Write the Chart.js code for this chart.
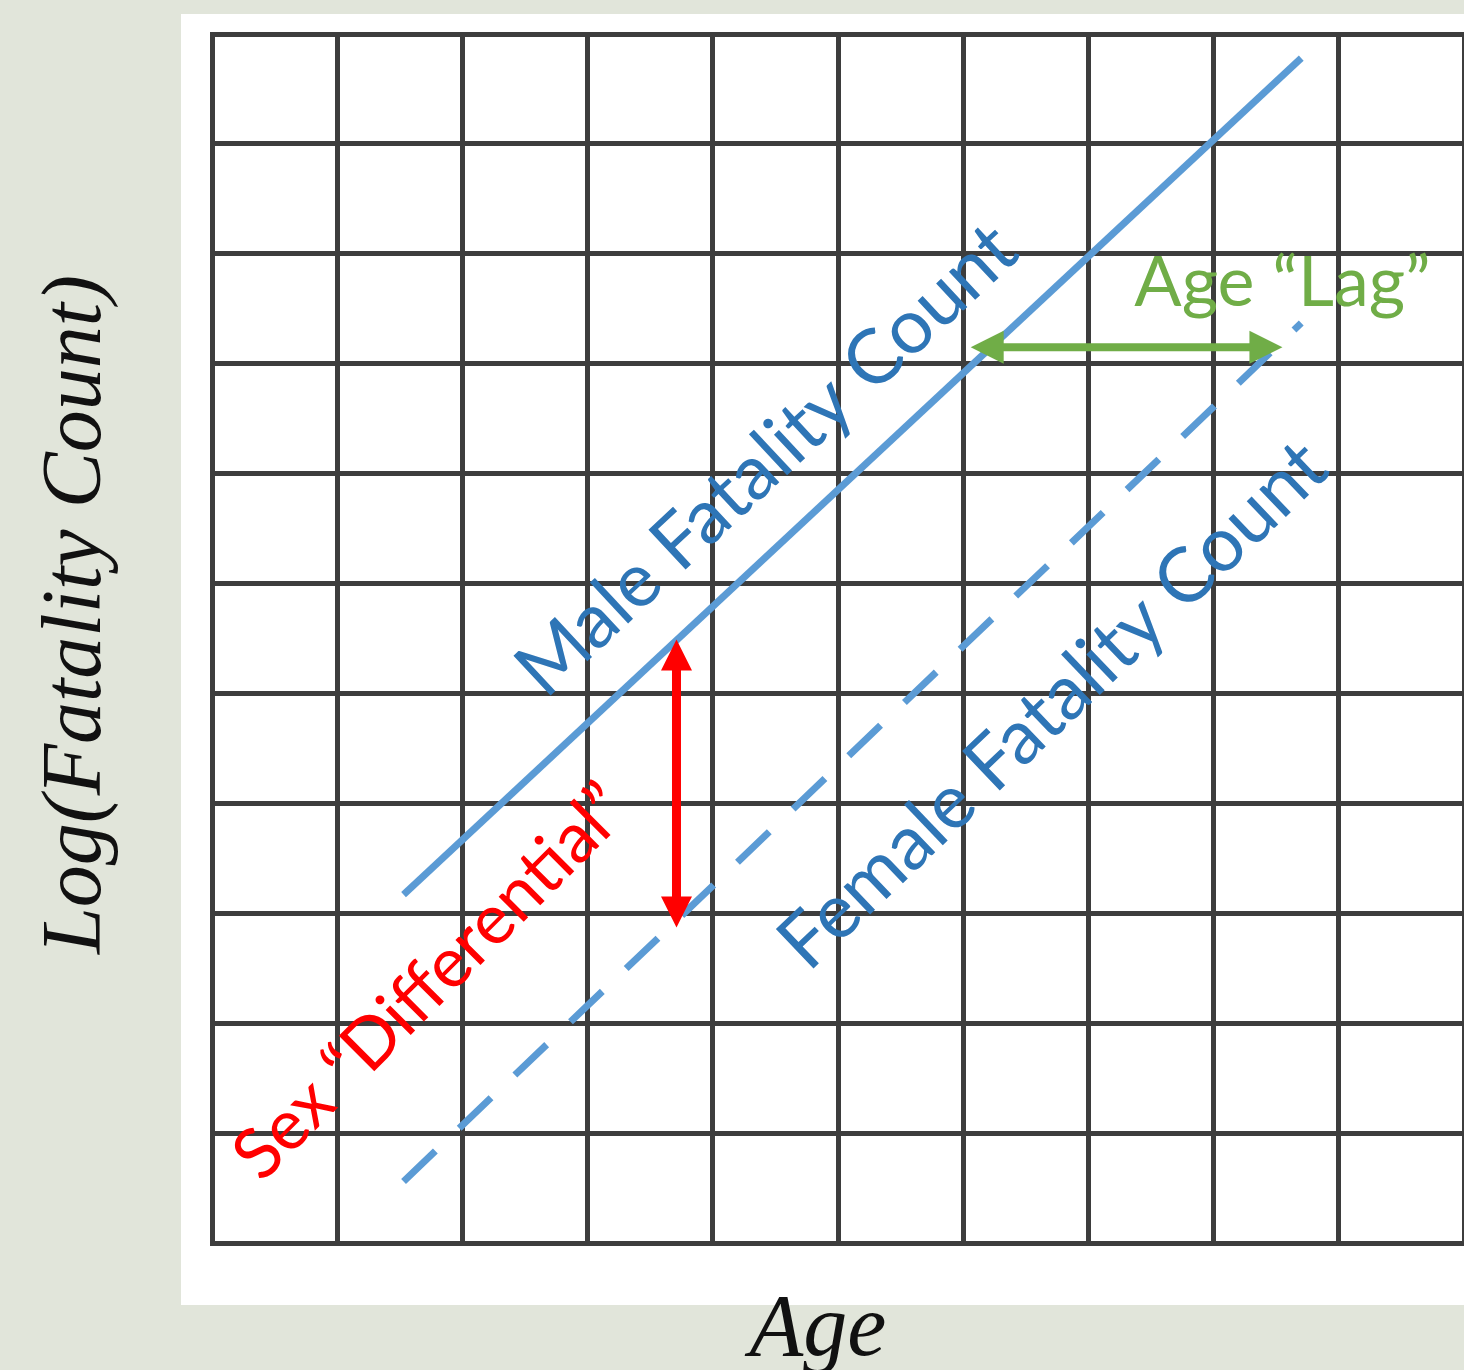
<!doctype html>
<html lang="en">
<head>
<meta charset="utf-8">
<title>Fatality count by age</title>
<style>
  html, body { margin: 0; padding: 0; background: #e1e5da; }
  #caixa { width: 1464px; height: 1370px; position: relative; }
</style>
</head>
<body>
<div id="caixa"><canvas id="grafico"></canvas></div>

<script src="https://cdn.jsdelivr.net/npm/chart.js"></script>
<script>
// values (no tick labels, grid goes 0-10 across and 0-11 up)
const ageX = [1.53, 8.70];
const maleLog = [3.17, 10.78];
const femaleLog = [0.56, 8.37];

// the two double arrows, in the same units
const diffArrowX = [3.71, 3.71];
const diffArrowY = [5.49, 2.87];
const lagArrowX = [6.06, 8.55];
const lagArrowY = [8.15, 8.15];

const gridColor = '#3d3d3d';
const blueFont = '76px Lato';
const noteFont = '70px Lato';

function arrow(ctx, x1, y1, x2, y2, color, width, head) {
  const ang = Math.atan2(y2 - y1, x2 - x1);
  const len = Math.hypot(x2 - x1, y2 - y1);
  ctx.save();
  ctx.translate(x1, y1);
  ctx.rotate(ang);
  ctx.strokeStyle = color;
  ctx.fillStyle = color;
  ctx.lineWidth = width;
  ctx.beginPath();
  ctx.moveTo(head * 0.9, 0);
  ctx.lineTo(len - head * 0.9, 0);
  ctx.stroke();
  ctx.beginPath();
  ctx.moveTo(0, 0); ctx.lineTo(head, -head / 2); ctx.lineTo(head, head / 2);
  ctx.closePath(); ctx.fill();
  ctx.beginPath();
  ctx.moveTo(len, 0); ctx.lineTo(len - head, -head / 2); ctx.lineTo(len - head, head / 2);
  ctx.closePath(); ctx.fill();
  ctx.restore();
}

function text(ctx, str, x, y, ang, font, color) {
  ctx.save();
  ctx.translate(x, y);
  ctx.rotate(ang);
  ctx.font = font;
  ctx.fillStyle = color;
  ctx.textAlign = 'center';
  ctx.textBaseline = 'middle';
  ctx.fillText(str, 0, 0);
  ctx.restore();
}

// label that follows a dataset line: t = fraction along it, off = px above it
function lineLabel(chart, i, str, t, off, color) {
  const pts = chart.getDatasetMeta(i).data;
  const p0 = pts[0], p1 = pts[pts.length - 1];
  const ang = Math.atan2(p1.y - p0.y, p1.x - p0.x);
  const x = p0.x + (p1.x - p0.x) * t + Math.sin(ang) * off;
  const y = p0.y + (p1.y - p0.y) * t - Math.cos(ang) * off;
  text(chart.ctx, str, x, y, ang, blueFont, color);
}

const panel = {
  id: 'panel',
  beforeDraw(chart) {
    const {ctx, chartArea: a} = chart;
    ctx.save();
    ctx.fillStyle = '#fff';
    ctx.fillRect(a.left - 31, a.top - 20, chart.width, a.bottom - a.top + 82);
    ctx.restore();
  }
};

const notes = {
  id: 'notes',
  afterDatasetsDraw(chart) {
    const {ctx, chartArea: a, scales: {x, y}} = chart;

    arrow(ctx, x.getPixelForValue(diffArrowX[0]), y.getPixelForValue(diffArrowY[0]),
      x.getPixelForValue(diffArrowX[1]), y.getPixelForValue(diffArrowY[1]), '#ff0000', 9, 31);
    arrow(ctx, x.getPixelForValue(lagArrowX[0]), y.getPixelForValue(lagArrowY[0]),
      x.getPixelForValue(lagArrowX[1]), y.getPixelForValue(lagArrowY[1]), '#70ad47', 8, 33);

    lineLabel(chart, 0, 'Male Fatality Count', 0.458, 70, '#2e75b6');
    lineLabel(chart, 1, 'Female Fatality Count', 0.643, -105, '#2e75b6');
    text(ctx, 'Sex \u201cDifferential\u201d', x.getPixelForValue(1.75), y.getPixelForValue(2.37),
      -Math.PI / 4, noteFont, '#ff0000');
    text(ctx, 'Age \u201cLag\u201d', x.getPixelForValue(8.55), y.getPixelForValue(8.73),
      0, noteFont, '#70ad47');

    // axis titles
    ctx.save();
    ctx.fillStyle = '#111';
    ctx.textAlign = 'center';
    ctx.textBaseline = 'alphabetic';
    ctx.font = 'italic 88px "Liberation Serif"';
    ctx.fillText('Age', (a.left + a.right) / 2 - 20, a.bottom + 112);
    ctx.translate(a.left - 112, (a.top + a.bottom) / 2 - 24);
    ctx.rotate(-Math.PI / 2);
    ctx.font = 'italic 84px "Liberation Serif"';
    ctx.fillText('Log(Fatality Count)', 0, 0);
    ctx.restore();
  }
};

const local = document.querySelector('#grafico');

new Chart(local, {
  type: 'scatter',
  data: {
    datasets: [
      {
        label: 'Male Fatality Count',
        data: ageX.map((v, i) => ({x: v, y: maleLog[i]})),
        showLine: true,
        borderColor: '#5b9bd5',
        borderWidth: 7,
        borderCapStyle: 'butt',
        pointRadius: 0
      },
      {
        label: 'Female Fatality Count',
        data: ageX.map((v, i) => ({x: v, y: femaleLog[i]})),
        showLine: true,
        borderColor: '#5b9bd5',
        borderWidth: 7,
        borderDash: [44, 33],
        borderCapStyle: 'butt',
        pointRadius: 0
      }
    ]
  },
  options: {
    responsive: true,
    maintainAspectRatio: false,
    animation: false,
    layout: { padding: { top: 34, right: 0, bottom: 0, left: 0 } },
    plugins: { legend: { display: false }, tooltip: { enabled: false } },
    scales: {
      x: {
        type: 'linear', min: 0, max: 10,
        ticks: { display: false, stepSize: 1, maxTicksLimit: 20 },
        grid: { color: gridColor, lineWidth: 5, drawTicks: false },
        border: { color: gridColor, width: 5 },
        afterFit: s => { s.height = 127; }
      },
      y: {
        type: 'linear', min: 0, max: 11,
        ticks: { display: false, stepSize: 1, maxTicksLimit: 20 },
        grid: { color: gridColor, lineWidth: 5, drawTicks: false },
        border: { color: gridColor, width: 5 },
        afterFit: s => { s.width = 212; }
      }
    }
  },
  plugins: [panel, notes]
});
</script>
</body>
</html>
